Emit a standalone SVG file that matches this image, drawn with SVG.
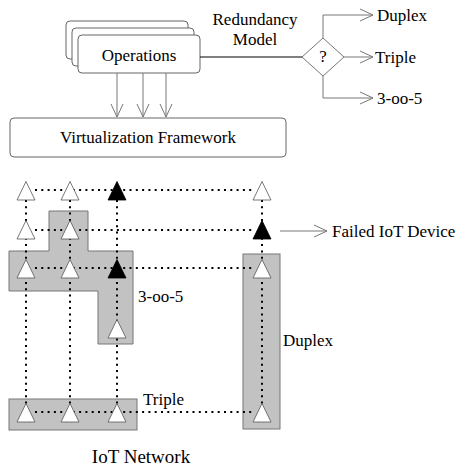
<svg xmlns="http://www.w3.org/2000/svg" width="456" height="468" viewBox="0 0 456 468">
<defs>
<style>
text{font-family:"Times New Roman",Times,"Liberation Serif","DejaVu Serif","Noto Serif",serif;font-size:17px;fill:#000}
.box{fill:#fff;stroke:#666;stroke-width:1}
.ln{fill:none;stroke:#777;stroke-width:1}
.dot{fill:none;stroke:#000;stroke-width:2;stroke-dasharray:2 4.3}
.grp{fill:#c2c2c2;stroke:#777;stroke-width:1}
.tw{fill:#fff;stroke:#555;stroke-width:0.8}
.tb{fill:#000;stroke:#000;stroke-width:0.8}
</style>
<marker id="v" viewBox="0 0 14 14" refX="13" refY="7" markerWidth="14" markerHeight="14" markerUnits="userSpaceOnUse" orient="auto">
<path d="M0,1 L13,7 L0,13" fill="none" stroke="#777" stroke-width="1"/>
</marker>
<polygon id="t" points="0,-9.5 9,9 -9,9"/>
</defs>
<rect width="456" height="468" fill="#fff"/>

<g id="operations">
<rect class="box" x="66" y="21" width="122" height="38" rx="4"/>
<rect class="box" x="72" y="28" width="122" height="38" rx="4"/>
<rect class="box" x="78" y="35" width="122" height="38" rx="4"/>
<text x="139" y="61" text-anchor="middle">Operations</text>
</g>

<g id="virtualization">
<rect class="box" x="10" y="118" width="276" height="39" rx="4"/>
<text x="148" y="143" text-anchor="middle">Virtualization Framework</text>
</g>

<g id="decision">
<polygon class="box" points="302,57 323,38 344,57 323,76" style="stroke:#777"/>
<text x="323" y="62" text-anchor="middle">?</text>
</g>

<g id="labels">
<text x="255" y="25" text-anchor="middle">Redundancy</text>
<text x="255" y="45" text-anchor="middle">Model</text>
<text x="377" y="21">Duplex</text>
<text x="375" y="63">Triple</text>
<text x="377" y="104">3-oo-5</text>
<text x="332" y="237">Failed IoT Device</text>
<text x="138" y="302">3-oo-5</text>
<text x="283" y="346">Duplex</text>
<text x="143" y="405">Triple</text>
<text x="141" y="463" text-anchor="middle" style="font-size:19px">IoT Network</text>
</g>

<g id="groups">
<path class="grp" d="M9,251 H49 V211 H88 V251 H133 V344 H98 V291 H9 Z"/>
<rect class="grp" x="243" y="254" width="37" height="175"/>
<rect class="grp" x="9" y="399" width="128" height="31"/>
</g>

<g id="connectors">
<line x1="200" y1="57" x2="302" y2="57" stroke="#000" stroke-width="1"/>
<path class="ln" d="M323,38 V15 H373" marker-end="url(#v)"/>
<path class="ln" d="M344,57 H373" marker-end="url(#v)"/>
<path class="ln" d="M323,76 V98 H373" marker-end="url(#v)"/>
<line class="ln" x1="117" y1="73" x2="117" y2="117" marker-end="url(#v)"/>
<line class="ln" x1="143" y1="73" x2="143" y2="117" marker-end="url(#v)"/>
<line class="ln" x1="166" y1="73" x2="166" y2="117" marker-end="url(#v)"/>
<line class="ln" x1="280" y1="231" x2="327" y2="231" marker-end="url(#v)"/>
<path class="dot" d="M35,190 H255 M35,230 H255 M35,268 H255 M35,412 H255"/>
<path class="dot" d="M26,200 V405 M70,200 V405 M117,200 V405 M262,200 V405"/>
</g>

<g id="devices">
<use href="#t" class="tw" x="26" y="191"/>
<use href="#t" class="tw" x="70" y="191"/>
<use href="#t" class="tb" x="117" y="191"/>
<use href="#t" class="tw" x="262" y="191"/>
<use href="#t" class="tw" x="26" y="230"/>
<use href="#t" class="tw" x="70" y="230"/>
<use href="#t" class="tb" x="262" y="230"/>
<use href="#t" class="tw" x="26" y="269"/>
<use href="#t" class="tw" x="70" y="269"/>
<use href="#t" class="tb" x="117" y="269"/>
<use href="#t" class="tw" x="262" y="269"/>
<use href="#t" class="tw" x="117" y="329"/>
<use href="#t" class="tw" x="26" y="413"/>
<use href="#t" class="tw" x="70" y="413"/>
<use href="#t" class="tw" x="117" y="413"/>
<use href="#t" class="tw" x="262" y="413"/>
</g>
</svg>
